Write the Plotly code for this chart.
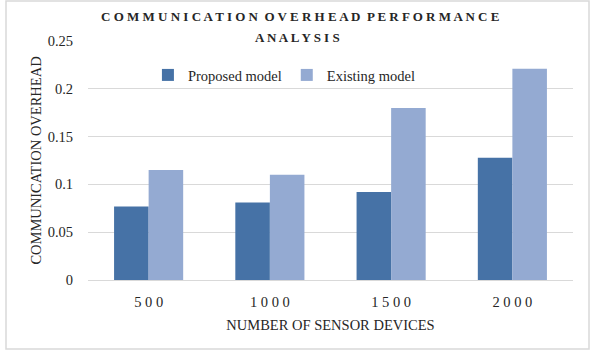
import plotly.graph_objects as go

categories = ["5 0 0", "1 0 0 0", "1 5 0 0", "2 0 0 0"]
proposed = [0.077, 0.081, 0.092, 0.128]
existing = [0.115, 0.110, 0.180, 0.221]
y_ticks = [0, 0.05, 0.1, 0.15, 0.2, 0.25]
y_tick_labels = ["0", "0.05", "0.1", "0.15", "0.2", "0.25"]
title_line1 = "<b>C O M M U N I C A T I O N  O V E R H E A D  P E R F O R M A N C E</b>"
title_line2 = "<b>A N A L Y S I S</b>"

serif = "Liberation Serif, Times New Roman, serif"
PX = 239  # plot height in px
FS = 14.5
col = "#262626"

fig = go.Figure()
fig.add_trace(go.Bar(name="Proposed model", x=categories, y=proposed,
                     marker=dict(color="#4672A6", line=dict(width=0))))
fig.add_trace(go.Bar(name="Existing model", x=categories, y=existing,
                     marker=dict(color="#94AAD2", line=dict(width=0))))

fig.update_layout(
    width=594, height=352,
    margin=dict(l=88, r=21, t=41, b=72),
    paper_bgcolor="white", plot_bgcolor="white",
    barmode="group", bargap=0.43, bargroupgap=0,
    font=dict(family=serif, size=FS, color=col),
    legend=dict(orientation="h", x=0.405, xanchor="center", y=(280 - 75) / PX, yanchor="middle",
                font=dict(family=serif, size=FS, color=col),
                bgcolor="rgba(0,0,0,0)", itemwidth=30, traceorder="normal"),
    xaxis=dict(title=dict(text="NUMBER OF SENSOR DEVICES", standoff=10,
                          font=dict(family=serif, size=FS, color=col)),
               showgrid=False, showline=True, linecolor="#d9d9d9", linewidth=1,
               ticks="", ticklabelstandoff=9,
               tickfont=dict(family=serif, size=FS, color=col)),
    yaxis=dict(title=dict(text="COMMUNICATION OVERHEAD", standoff=2,
                          font=dict(family=serif, size=FS, color=col)),
               range=[0, 0.25], tickvals=y_ticks, ticktext=y_tick_labels,
               showgrid=True, gridcolor="#d9d9d9", gridwidth=1, zeroline=False,
               showline=False, ticks="", ticklabelstandoff=14,
               tickfont=dict(family=serif, size=FS, color=col)),
    annotations=[
        dict(text=title_line1, xref="paper", yref="paper",
             x=(300 - 88) / 485, xanchor="center",
             y=(280 - 17) / PX, yanchor="middle", showarrow=False,
             font=dict(family=serif, size=13, color=col)),
        dict(text=title_line2, xref="paper", yref="paper",
             x=(297 - 88) / 485, xanchor="center",
             y=(280 - 38) / PX, yanchor="middle", showarrow=False,
             font=dict(family=serif, size=13, color=col)),
    ],
    shapes=[dict(type="rect", xref="paper", yref="paper",
                 x0=(6 - 88) / 485, x1=(589 - 88) / 485,
                 y0=(280 - 349) / PX, y1=(280 - 1) / PX,
                 line=dict(color="#d9d9d9", width=1.5), fillcolor="rgba(0,0,0,0)",
                 layer="below")],
)

fig.write_html("out.html")
